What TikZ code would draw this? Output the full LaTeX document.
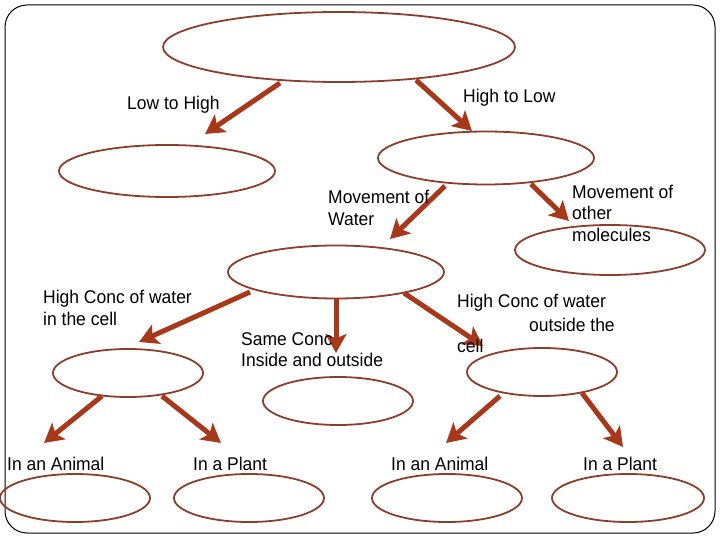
\documentclass[tikz,border=0pt]{standalone}
\usepackage{fontspec}
\setmainfont{Liberation Sans}[FakeStretch=0.95]
\usetikzlibrary{shapes.geometric,arrows.meta}
\definecolor{ellcol}{RGB}{140,62,42}
\definecolor{arrcol}{RGB}{168,56,26}
\tikzset{
  ell/.style={draw=ellcol,line width=1.8pt,ellipse,inner sep=0pt,minimum width=#1},
  ell/.default=150pt,
  arr/.style={draw=arrcol,line width=5pt,-{Stealth[length=19pt,width=21pt,inset=4.5pt]}},
  lbl/.style={anchor=west,align=left,inner sep=0pt,font=\fontsize{18.4}{21.5}\selectfont},
}
\begin{document}
\begin{tikzpicture}[x=1pt,y=-1pt]
\useasboundingbox (0,0) rectangle (720,540);
\draw[black,line width=1pt,rounded corners=22pt] (5,5) rectangle (715,533);
% ellipses
\node[ell=352pt,minimum height=70pt] (top) at (339,47) {};
\node[ell=216pt,minimum height=52pt] (lh) at (167,171) {};
\node[ell=216pt,minimum height=53pt] (hl) at (486,158) {};
\node[ell=190pt,minimum height=50pt] (om) at (610,250) {};
\node[ell=216pt,minimum height=53pt] (mw) at (336,272) {};
\node[ell=150pt,minimum height=48pt] (hin) at (128,373) {};
\node[ell=150pt,minimum height=48pt] (same) at (338,401) {};
\node[ell=150pt,minimum height=48pt] (hout) at (542,372) {};
\node[ell=150pt,minimum height=48pt] (b1) at (75,498) {};
\node[ell=150pt,minimum height=48pt] (b2) at (249,498) {};
\node[ell=150pt,minimum height=48pt] (b3) at (447,498) {};
\node[ell=152pt,minimum height=48pt] (b4) at (628,498) {};
% arrow end coordinates
\coordinate (a1s) at (280,83);  \coordinate (a1e) at (205,134);
\coordinate (a2s) at (416,80);  \coordinate (a2e) at (472,131);
\coordinate (a3s) at (445,186); \coordinate (a3e) at (390,239);
\coordinate (a4s) at (531,184); \coordinate (a4e) at (569,221);
\coordinate (a5s) at (250,292); \coordinate (a5e) at (139,342);
\coordinate (a6s) at (336,299); \coordinate (a6e) at (336,353);
\coordinate (a7s) at (404,293); \coordinate (a7e) at (483,346);
\coordinate (a8s) at (102,396); \coordinate (a8e) at (44,443);
\coordinate (a9s) at (162,396); \coordinate (a9e) at (221,443);
\coordinate (a10s) at (500,396); \coordinate (a10e) at (446,443);
\coordinate (a11s) at (582,393); \coordinate (a11e) at (623,447);
\foreach \i in {1,...,11} { \draw[arr] (a\i s) -- (a\i e); }
% labels
\node[lbl] (t1) at (127,105) {Low to High};
\node[lbl] (t2) at (463,98) {High to Low};
\node[lbl] (t3) at (328,208) {Movement of\\Water};
\node[lbl] (t4) at (572,213) {Movement of\\other\\molecules};
\node[lbl] (t5) at (43,308) {High Conc of water\\in the cell};
\node[lbl] (t6) at (241,349.5) {Same Conc\\Inside and outside};
\node[lbl] (t7) at (457,303) {High Conc of water};
\node[lbl] (t8) at (529,325) {outside the};
\node[lbl] (t9) at (457,346) {cell};
\node[lbl] (t10) at (7,464) {In an Animal};
\node[lbl] (t11) at (193,464) {In a Plant};
\node[lbl] (t12) at (391,464) {In an Animal};
\node[lbl] (t13) at (583,464) {In a Plant};
\end{tikzpicture}
\end{document}
